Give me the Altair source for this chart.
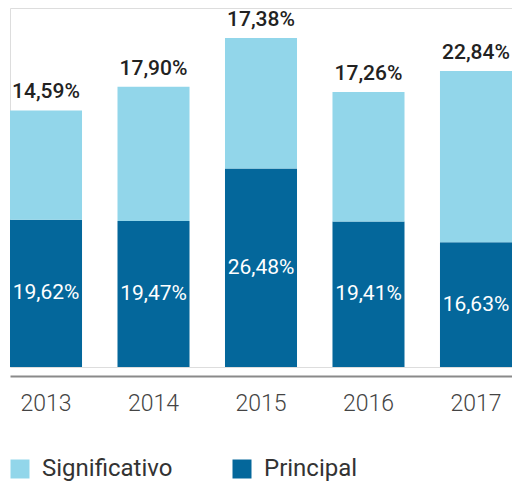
import altair as alt
import pandas as pd

years = ["2013", "2014", "2015", "2016", "2017"]
principal = [19.62, 19.47, 26.48, 19.41, 16.63]
significativo = [14.59, 17.90, 17.38, 17.26, 22.84]
series = ["Significativo", "Principal"]
colors = ["#92D6EA", "#04679B"]


def fmt(v):
    return f"{v:.2f}".replace(".", ",") + "%"


long_rows = []
for y, p, s in zip(years, principal, significativo):
    long_rows.append({"year": y, "serie": "Principal", "value": p, "ord": 0})
    long_rows.append({"year": y, "serie": "Significativo", "value": s, "ord": 1})
long_df = pd.DataFrame(long_rows)

wide_df = pd.DataFrame({
    "year": years,
    "principal": principal,
    "significativo": significativo,
})
wide_df["total"] = wide_df["principal"] + wide_df["significativo"]
wide_df["mid"] = wide_df["principal"] / 2
wide_df["plabel"] = [fmt(v) for v in principal]
wide_df["slabel"] = [fmt(v) for v in significativo]

FONT = "Roboto"

xenc = alt.X(
    "year:N",
    sort=years,
    title=None,
    scale=alt.Scale(paddingInner=0.33, paddingOuter=0),
    axis=alt.Axis(
        domainColor="#8a8a8a",
        domainWidth=2,
        ticks=False,
        labelFontSize=23,
        labelColor="#444444",
        labelFont=FONT,
        labelFontWeight=300,
        labelPadding=16,
        offset=9,
        labelAngle=0,
    ),
)
yscale = alt.Scale(domain=[0, 47.87], nice=False, zero=True)

bars = alt.Chart(long_df).mark_bar().encode(
    x=xenc,
    y=alt.Y("value:Q", stack="zero", scale=yscale, axis=None),
    color=alt.Color(
        "serie:N",
        scale=alt.Scale(domain=series, range=colors),
        legend=alt.Legend(
            title=None,
            orient="none",
            legendX=-2,
            legendY=449,
            direction="horizontal",
            symbolType="square",
            symbolSize=361,
            symbolStrokeWidth=0,
            labelFontSize=24,
            labelFont=FONT,
            labelColor="#333333",
            labelOffset=10,
            columnPadding=57,
            labelLimit=300,
        ),
    ),
    order=alt.Order("ord:Q", sort="ascending"),
)

top_text = alt.Chart(wide_df).mark_text(
    font=FONT, fontSize=21, fontWeight=500, color="#222222",
    baseline="alphabetic", dy=-12,
).encode(
    x=alt.X("year:N", sort=years),
    y=alt.Y("total:Q", scale=yscale),
    text="slabel:N",
)

mid_text = alt.Chart(wide_df).mark_text(
    font=FONT, fontSize=21, fontWeight=400, color="white",
    baseline="middle",
).encode(
    x=alt.X("year:N", sort=years),
    y=alt.Y("mid:Q", scale=yscale),
    text="plabel:N",
)

chart = alt.layer(bars, top_text, mid_text).properties(
    width=502,
    height=359,
    autosize=alt.AutoSizeParams(type="none"),
    padding={"left": 2, "top": 0, "right": 0, "bottom": 115},
).configure_view(stroke=None).configure(background="white")

chart.save("out.html", embed_options={"renderer": "svg", "actions": False})
